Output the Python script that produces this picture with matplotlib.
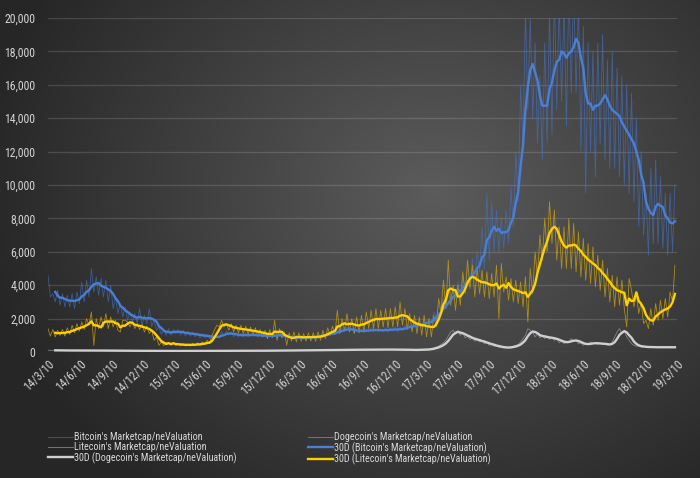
import numpy as np
import pandas as pd
import matplotlib
matplotlib.use('Agg')
import matplotlib.pyplot as plt
from matplotlib.lines import Line2D
from matplotlib.ticker import FuncFormatter

# weekly readings, starting 2014-03-10
start = '2014-03-10'

btc = [4600, 3300, 3500, 3000, 3700, 2800, 3500, 2700, 3400, 2700,
       3500, 2600, 3600, 2900, 4200, 3000, 4300, 3300, 5000, 3600,
       4500, 3400, 4400, 3300, 4300, 3000, 4000, 2600, 3300, 2300,
       2900, 2100, 2700, 1900, 2400, 1800, 2300, 1700, 2600, 1600,
       2200, 1700, 2600, 1500, 1900, 1300, 1500, 1050, 1300, 1000,
       1400, 1000, 1350, 1100, 1350, 1000, 1300, 950, 1250, 950,
       1200, 900, 1150, 850, 1100, 850, 1050, 800, 1000, 800,
       1000, 850, 1250, 950, 1250, 1000, 1200, 900, 1150, 900,
       1100, 900, 1150, 900, 1100, 950, 1100, 900, 1050, 900,
       1050, 850, 1050, 900, 1100, 900, 1100, 900, 1000, 850,
       950, 780, 930, 780, 950, 800, 920, 780, 950, 800,
       950, 820, 1000, 850, 1100, 950, 1200, 1000, 1250, 1050,
       1400, 1150, 1450, 1250, 1500, 1250, 1400, 1150, 1350, 1150,
       1400, 1150, 1400, 1200, 1450, 1200, 1400, 1200, 1400, 1200,
       1450, 1200, 1450, 1250, 1500, 1200, 1500, 1300, 1600, 1400,
       1650, 1400, 1750, 1450, 1850, 1550, 1950, 1650, 1950, 1700,
       2400, 2100, 2800, 2300, 3200, 2700, 3500, 3000, 3900, 3200,
       4200, 3400, 4600, 3700, 5000, 4200, 5600, 4300, 6000, 4800,
       7500, 5000, 9500, 5500, 9000, 6000, 8500, 6000, 8000, 6200,
       8500, 6500, 9800, 7500, 12000, 9000, 16000, 12500, 20500, 14500,
       20000, 14000, 18500, 12500, 16500, 11500, 18500, 12500, 20500, 13000,
       21500, 14500, 21000, 15000, 21000, 13500, 22000, 15500, 22000, 15500,
       21000, 12000, 19500, 9500, 18500, 12000, 18000, 10500, 18500, 12500,
       19000, 11500, 17500, 11000, 18000, 11000, 17000, 10500, 16500, 10000,
       16000, 9500, 15500, 9000, 14000, 7500, 12000, 7000, 9500, 5800,
       11000, 6500, 11500, 6500, 10500, 6200, 9500, 5800, 9500, 6000, 10000]

ltc = [1400, 950, 1350, 900, 1300, 1000, 1350, 950, 1450, 1050,
       1600, 1150, 1700, 1250, 1800, 1350, 2000, 1600, 2400, 400,
       2000, 1400, 2100, 1500, 2300, 1400, 2100, 1500, 1900, 1300,
       1200, 1900, 1900, 1800, 1500, 1800, 1400, 1700, 1350, 1650,
       1200, 1550, 1100, 1300, 700, 900, 400, 600, 380, 550,
       580, 400, 560, 380, 520, 360, 500, 350, 490, 360,
       520, 370, 560, 390, 600, 450, 700, 500, 1000, 1300,
       1600, 1500, 1900, 1500, 1700, 1300, 1700, 1200, 1600, 1150,
       1600, 1100, 1550, 1050, 1500, 1000, 1450, 950, 1350, 900,
       1300, 800, 1350, 850, 1900, 700, 1400, 850, 1200, 400,
       1150, 650, 1200, 600, 1150, 650, 1100, 650, 1150, 650,
       1150, 650, 1200, 700, 1300, 800, 1450, 1000, 1550, 1050,
       2500, 1100, 2000, 1250, 2300, 1200, 2000, 1100, 2100, 1150,
       2200, 1200, 2400, 1400, 2500, 1400, 2600, 1400, 2500, 1500,
       2600, 1450, 2600, 1500, 2700, 1500, 3000, 1600, 2600, 1350,
       2300, 1200, 2200, 1100, 2100, 1000, 2200, 900, 2000, 900,
       2200, 1500, 3200, 2400, 4300, 2600, 5500, 2800, 4000, 2500,
       4000, 2800, 4800, 3500, 5500, 3800, 5200, 3300, 5000, 3500,
       4900, 3300, 4800, 3200, 4700, 3300, 5200, 2000, 5300, 3600,
       4500, 3100, 4400, 3000, 4300, 2900, 4200, 2700, 4500, 1800,
       5000, 3500, 6000, 4500, 7000, 5500, 8000, 6000, 9000, 6500,
       8500, 5500, 7500, 5000, 7500, 5000, 8000, 5000, 7700, 4800,
       7200, 4500, 6800, 4300, 6500, 4100, 6300, 3900, 5800, 3700,
       5500, 3300, 5000, 3000, 4600, 2700, 4500, 2800, 4300, 2600,
       1500, 4400, 3700, 2700, 3500, 2300, 3000, 1700, 1900, 1400,
       2600, 1600, 2900, 1900, 3100, 2000, 3200, 2100, 3600, 3000, 5200]

doge = [110, 95, 105, 90, 100, 90, 95, 85, 95, 90,
        95, 85, 90, 85, 95, 90, 90, 85, 90, 85,
        90, 80, 90, 80, 85, 80, 85, 80, 85, 75,
        80, 75, 80, 75, 80, 70, 75, 70, 75, 70,
        75, 70, 75, 65, 70, 65, 70, 60, 65, 60,
        65, 60, 65, 60, 65, 60, 65, 60, 65, 60,
        65, 60, 65, 60, 65, 60, 70, 65, 70, 65,
        75, 70, 75, 70, 75, 70, 75, 70, 75, 70,
        75, 70, 75, 70, 75, 70, 80, 75, 80, 75,
        80, 75, 85, 80, 85, 80, 85, 80, 90, 85,
        90, 85, 95, 90, 95, 90, 100, 95, 100, 95,
        105, 100, 110, 100, 110, 105, 115, 110, 120, 115,
        125, 120, 130, 125, 135, 130, 135, 130, 140, 135,
        140, 135, 140, 135, 145, 140, 145, 140, 150, 145,
        150, 140, 150, 140, 150, 140, 145, 135, 140, 130,
        130, 110, 140, 120, 150, 130, 160, 140, 170, 200,
        250, 300, 350, 450, 550, 700, 950, 1200, 1300, 1100,
        1250, 1000, 1150, 850, 950, 750, 850, 650, 750, 600,
        650, 500, 550, 400, 450, 350, 350, 280, 300, 240,
        280, 250, 320, 350, 400, 450, 600, 800, 1000, 1400,
        1300, 1200, 900, 1100, 850, 1000, 800, 950, 750, 900,
        700, 800, 550, 650, 500, 650, 600, 800, 650, 700,
        500, 550, 400, 500, 450, 600, 500, 550, 450, 550,
        450, 500, 400, 450, 600, 900, 1200, 1400, 1100, 1300,
        900, 700, 500, 400, 350, 350, 300, 320, 280, 300,
        280, 300, 270, 290, 280, 300, 270, 290, 280, 290, 280]

dates = pd.date_range(start, periods=len(btc), freq='7D')
df = pd.DataFrame({'btc': btc, 'ltc': ltc, 'doge': doge}, index=dates)
ma = df.rolling(4).mean()  # ~30 day trailing average

plt.rcParams['font.family'] = ['Roboto Condensed', 'Noto Sans CJK SC', 'DejaVu Sans']
fig = plt.figure(figsize=(7, 4.78), dpi=100)

# dark radial backdrop
bg = fig.add_axes([0, 0, 1, 1], zorder=-10)
yy, xx = np.mgrid[0:1:478j, 0:1:700j]
r = np.sqrt(((xx - 0.62) / 0.75) ** 2 + ((yy - 0.4) / 0.9) ** 2)
v = np.clip(0.36 - 0.24 * r, 0.15, 1)
bg.imshow(np.dstack([v, v, v]), aspect='auto', extent=[0, 1, 0, 1])
bg.axis('off')

ax = fig.add_axes([48/700, 1-352/478, 629/700, 334/478])
ax.patch.set_alpha(0)

raw_btc = dict(color='#4472c4', lw=0.6, alpha=0.65)
raw_ltc = dict(color='#c9a00e', lw=0.6, alpha=0.8)
raw_doge = dict(color='#a0a0a0', lw=0.6, alpha=0.7)
ma_btc = dict(color='#4a7fd6', lw=1.7)
ma_doge = dict(color='#cfcfcf', lw=1.7)
ma_ltc = dict(color='#ffd000', lw=1.7)

ax.plot(df.index, df['btc'], **raw_btc)
ax.plot(df.index, df['ltc'], **raw_ltc)
ax.plot(df.index, df['doge'], **raw_doge)
ax.plot(ma.index, ma['btc'], **ma_btc)
ax.plot(ma.index, ma['doge'], **ma_doge)
ax.plot(ma.index, ma['ltc'], **ma_ltc)

ax.set_ylim(0, 20000)
ax.set_yticks(range(0, 20001, 2000))
ax.yaxis.set_major_formatter(FuncFormatter(lambda v, p: f'{int(v):,}'))
ax.set_xlim(pd.Timestamp('2014-03-10'), pd.Timestamp('2019-03-10'))
ticks = pd.date_range('2014-03-10', '2019-03-10', freq=pd.DateOffset(months=3))
ax.set_xticks(ticks)
ax.set_xticklabels([f'{d.year % 100}/{d.month}/{d.day}' for d in ticks],
                   rotation=45, ha='right', rotation_mode='anchor')
ax.grid(axis='y', color='white', alpha=0.14, lw=0.9)
ax.set_axisbelow(True)
for s in ax.spines.values():
    s.set_visible(False)
ax.tick_params(length=0, colors='#d4d4d4', labelsize=8.5)
ax.tick_params(axis='y', pad=9)
ax.tick_params(axis='x', pad=4)

labels = ["Bitcoin's Marketcap/neValuation", "Litecoin's Marketcap/neValuation",
          "30D (Dogecoin's Marketcap/neValuation)", "Dogecoin's Marketcap/neValuation",
          "30D (Bitcoin's Marketcap/neValuation)", "30D (Litecoin's Marketcap/neValuation)"]
handles = [Line2D([], [], **raw_btc), Line2D([], [], **raw_ltc), Line2D([], [], **ma_doge),
           Line2D([], [], **raw_doge), Line2D([], [], **ma_btc), Line2D([], [], **ma_ltc)]
fig.legend(handles, labels, ncol=2, loc='upper left', bbox_to_anchor=(39/700, 1-423/478),
           frameon=False, fontsize=7.2, labelcolor='#d9d9d9', handlelength=2.5,
           handletextpad=0.1, columnspacing=7.1, labelspacing=0.0)

fig.savefig('out.png', dpi=100)
